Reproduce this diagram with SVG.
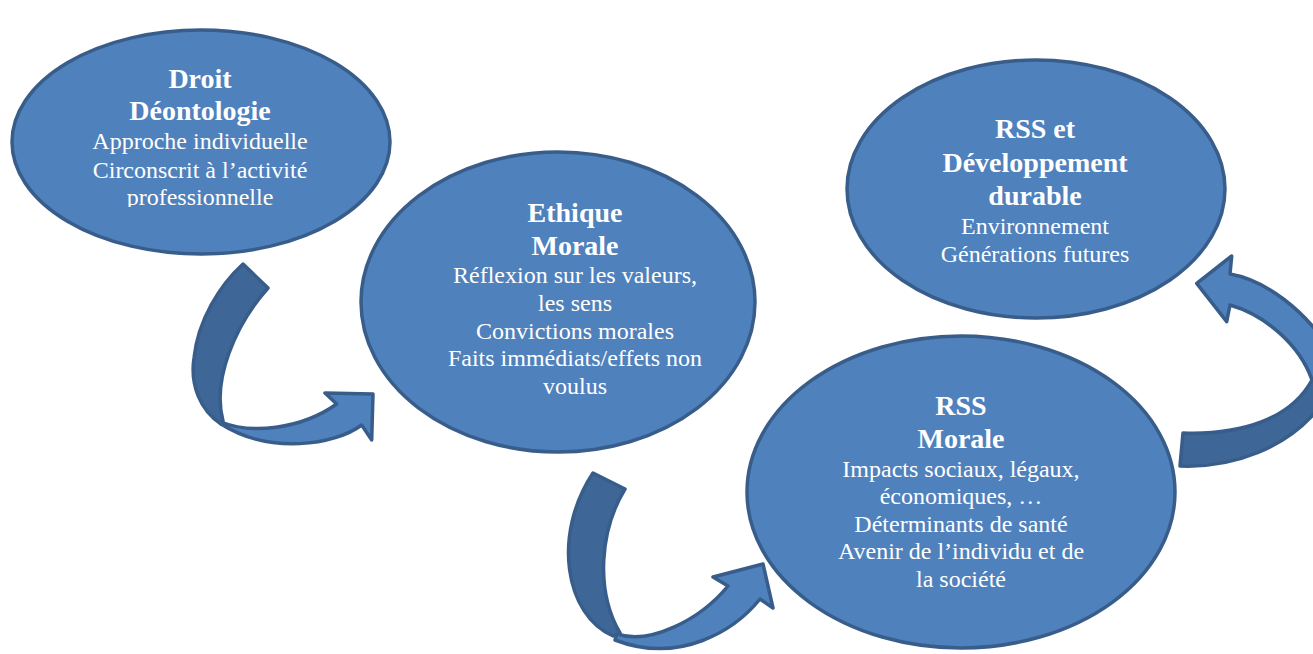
<svg xmlns="http://www.w3.org/2000/svg" width="1313" height="654" viewBox="0 0 1313 654">
  <style>
    .bubble { fill: #4f81bd; stroke: #385d8a; stroke-width: 3.5; }
    .front { fill: #4f81bd; stroke: #385d8a; stroke-width: 3.5; stroke-linejoin: round; }
    .back { fill: #3e6797; stroke: #385d8a; stroke-width: 3.5; stroke-linejoin: round; }
    .lbl { fill: #ffffff; text-anchor: middle; }
    .title { font-size: 28px; font-weight: bold; }
    .body { font-size: 24px; }
  </style>
  <defs>
    <clipPath id="cut-left">
      <rect x="0" y="0" width="420" height="207"/>
    </clipPath>
  </defs>
  <rect width="1313" height="654" fill="#ffffff"/>

  <!-- curved arrows -->
  <g id="connectors">
    <g id="arrow-droit-ethique">
      <path class="front" d="M 221,422 C 250,434 300,430 336.7,404 L 325,393 L 373,394 L 371.7,440 L 361.7,425 C 335,445 270,455 221,424 Z"/>
      <path class="back" d="M 243,264 L 268,288 C 235,325 212,380 223,421 L 221,424 C 200,410 190,385 194,358 C 198,320 220,285 243,264 Z"/>
    </g>
    <g id="arrow-ethique-rss">
      <path class="front" d="M 617,634 C 650,645 700,620 728,586 L 713,577 L 763,564 L 773,608 L 760,599 C 735,630 680,665 615,640 Z"/>
      <path class="back" d="M 593,473 L 625,489 C 600,530 595,590 620,633 L 613,636 C 565,615 552,535 593,473 Z"/>
    </g>
    <g id="arrow-rss-dd">
      <path class="front" d="M 1312,380 C 1300,345 1265,315 1230,305 L 1226.7,321.7 L 1196.7,283.3 L 1231.7,256 L 1230,274 C 1265,280 1305,310 1330,350 L 1330,380 Z"/>
      <path class="back" d="M 1183,433 L 1180,466 C 1230,468 1290,450 1325,400 L 1325,372 L 1312,380 C 1290,420 1240,435 1183,433 Z"/>
    </g>
  </g>

  <!-- nodes -->
  <g font-family="'Liberation Serif', 'DejaVu Serif', 'Times New Roman', serif">
    <g id="node-droit">
      <ellipse class="bubble" cx="201" cy="142" rx="189" ry="112"/>
      <text class="lbl title" x="200" y="88">Droit</text>
      <text class="lbl title" x="200" y="120">Déontologie</text>
      <g clip-path="url(#cut-left)">
        <text class="lbl body" x="200" y="149">Approche individuelle</text>
        <text class="lbl body" x="200" y="178">Circonscrit à l’activité</text>
        <text class="lbl body" x="200" y="205">professionnelle</text>
      </g>
    </g>

    <g id="node-ethique">
      <ellipse class="bubble" cx="558" cy="302" rx="197" ry="150"/>
      <text class="lbl title" x="575" y="222">Ethique</text>
      <text class="lbl title" x="575" y="255">Morale</text>
      <text class="lbl body" x="575" y="283">Réflexion sur les valeurs,</text>
      <text class="lbl body" x="575" y="311">les sens</text>
      <text class="lbl body" x="575" y="339">Convictions morales</text>
      <text class="lbl body" x="575" y="366">Faits immédiats/effets non</text>
      <text class="lbl body" x="575" y="394">voulus</text>
    </g>

    <g id="node-dd">
      <ellipse class="bubble" cx="1036" cy="189" rx="189" ry="129"/>
      <text class="lbl title" x="1035" y="138">RSS et</text>
      <text class="lbl title" x="1035" y="172">Développement</text>
      <text class="lbl title" x="1035" y="205">durable</text>
      <text class="lbl body" x="1035" y="234">Environnement</text>
      <text class="lbl body" x="1035" y="262">Générations futures</text>
    </g>

    <g id="node-rss">
      <ellipse class="bubble" cx="961" cy="492" rx="214" ry="156"/>
      <text class="lbl title" x="961" y="415">RSS</text>
      <text class="lbl title" x="961" y="448">Morale</text>
      <text class="lbl body" x="961" y="477">Impacts sociaux, légaux,</text>
      <text class="lbl body" x="961" y="504">économiques, …</text>
      <text class="lbl body" x="961" y="532">Déterminants de santé</text>
      <text class="lbl body" x="961" y="559">Avenir de l’individu et de</text>
      <text class="lbl body" x="961" y="587">la société</text>
    </g>
  </g>
</svg>
